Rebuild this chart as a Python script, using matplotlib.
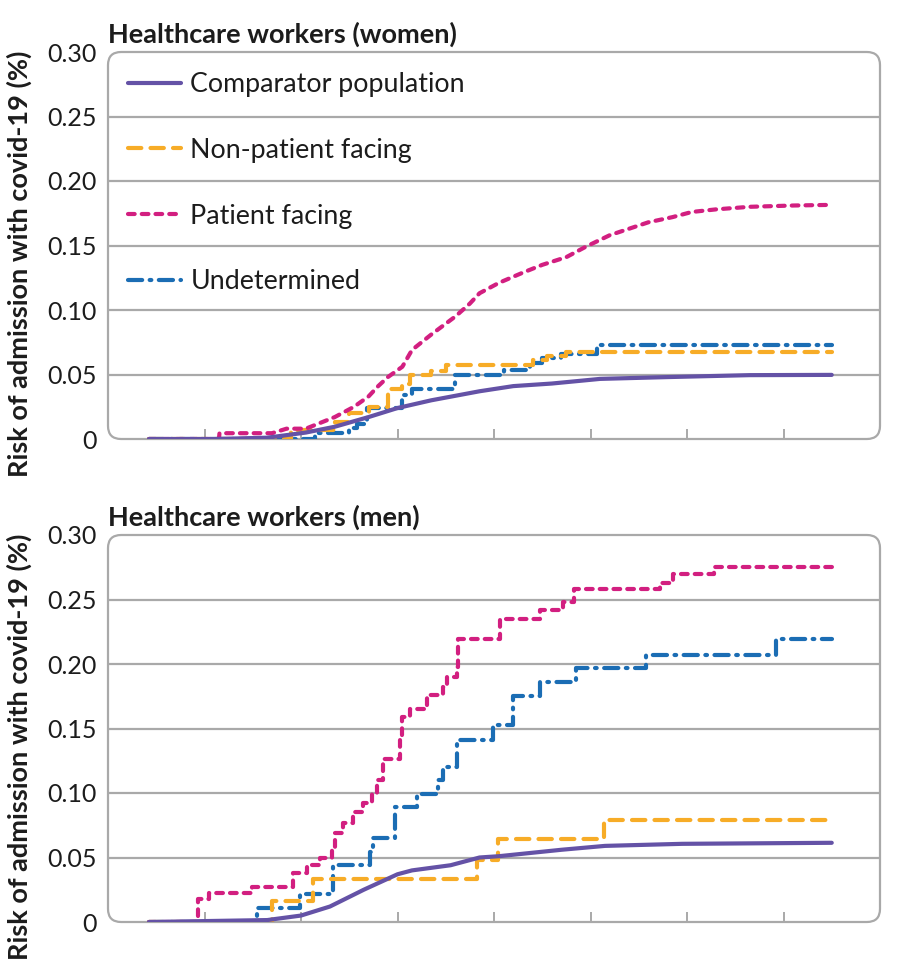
import matplotlib
matplotlib.use("Agg")
import matplotlib.pyplot as plt
from matplotlib.patches import FancyBboxPatch
from matplotlib.lines import Line2D

plt.rcParams['font.family'] = ['Lato', 'DejaVu Sans']

# ---------------- data (x in days since start, y in %) ----------------
series_names = ["Comparator population", "Non-patient facing", "Patient facing", "Undetermined"]

# Women
w_comp_x = [8.5, 22, 33, 41, 47, 54, 60, 67, 77, 84, 92, 102, 116, 133, 150]
w_comp_y = [0, 0, 0.001, 0.005, 0.0095, 0.017, 0.024, 0.030, 0.037, 0.041, 0.043, 0.0466, 0.048, 0.0495, 0.0497]

w_pat_x = [8.5, 23, 23.1, 34, 37, 41, 43, 47, 51, 54, 56, 58, 61, 63, 67, 72, 75, 77, 81, 86, 90, 95, 99, 104, 108, 112, 117, 121, 126, 133, 142, 150]
w_pat_y = [0, 0, 0.0045, 0.0045, 0.008, 0.008, 0.011, 0.017, 0.025, 0.033, 0.041, 0.048, 0.056, 0.069, 0.081, 0.095, 0.105, 0.113, 0.121, 0.129, 0.135, 0.141, 0.149, 0.158, 0.163, 0.168, 0.172, 0.176, 0.178, 0.180, 0.181, 0.1815]

w_non_x = [8.5, 34, 38, 44, 47, 50, 54, 58, 61, 62.6, 67, 70, 87, 88, 91, 95, 150]
w_non_y = [0, 0, 0.007, 0.007, 0.013, 0.020, 0.025, 0.039, 0.043, 0.050, 0.053, 0.057, 0.057, 0.061, 0.064, 0.0675, 0.0675]

w_und_x = [8.5, 41.4, 43, 46.6, 50, 51.6, 53.6, 58.4, 61, 63, 70, 72, 81, 82, 87.5, 90, 93.8, 100, 101.4, 150]
w_und_y = [0, 0, 0.005, 0.005, 0.0085, 0.012, 0.024, 0.024, 0.034, 0.039, 0.039, 0.050, 0.050, 0.0535, 0.059, 0.063, 0.066, 0.066, 0.073, 0.073]

# Men (step functions: value holds from x[i] to x[i+1])
m_comp_x = [8.5, 33, 40, 46, 53, 60, 63, 71, 77, 81, 94, 103, 119, 150]
m_comp_y = [0, 0.0015, 0.005, 0.012, 0.025, 0.037, 0.040, 0.044, 0.050, 0.051, 0.056, 0.059, 0.0606, 0.0614]

m_pat_x = [8.5, 18.6, 21.0, 29.8, 38.3, 41.2, 43.9, 46.4, 47.0, 48.7, 50.7, 52.8, 54.7, 55.7, 57.0, 60.5, 60.9, 62.6, 66.2, 69.4, 70.3, 72.3, 72.6, 81.3, 89.6, 94.4, 96.5, 114.5, 117.2, 125.5, 150]
m_pat_y = [0, 0.018, 0.0225, 0.027, 0.038, 0.044, 0.050, 0.056, 0.069, 0.077, 0.085, 0.092, 0.100, 0.110, 0.126, 0.141, 0.159, 0.165, 0.176, 0.182, 0.190, 0.198, 0.219, 0.235, 0.242, 0.248, 0.258, 0.263, 0.270, 0.275, 0.275]

m_und_x = [8.5, 30.8, 39.7, 46.6, 54.3, 55.0, 59.5, 64.0, 68.4, 69.4, 72.3, 79.8, 84.0, 89.6, 96.9, 111.4, 138.4, 150]
m_und_y = [0, 0.011, 0.022, 0.044, 0.054, 0.065, 0.089, 0.099, 0.110, 0.120, 0.141, 0.153, 0.175, 0.186, 0.197, 0.207, 0.219, 0.219]

m_non_x = [8.5, 33.9, 42.4, 76.5, 80.9, 102.7, 150]
m_non_y = [0, 0.016, 0.033, 0.048, 0.064, 0.079, 0.079]

y_ticks = [0, 0.05, 0.10, 0.15, 0.20, 0.25, 0.30]
y_tick_labels = ["0", "0.05", "0.10", "0.15", "0.20", "0.25", "0.30"]
x_ticks = [20, 40, 60, 80, 100, 120, 140]

panel_titles = ["Healthcare workers (women)", "Healthcare workers (men)"]
y_label = "Risk of admission with covid-19 (%)"

# ---------------- style ----------------
C_COMP = "#6452a6"
C_NON = "#f7ac27"
C_PAT = "#d21f80"
C_UND = "#1b6db4"
GRID = "#a9a9a9"
TXT = "#1c1c1c"
LW = 3.0

styles = {
    "Comparator population": dict(color=C_COMP, lw=LW, linestyle="-", solid_capstyle="round"),
    "Non-patient facing": dict(color=C_NON, lw=LW, linestyle=(0, (3.2, 2.2)), dash_capstyle="round"),
    "Patient facing": dict(color=C_PAT, lw=LW, linestyle=(0, (1.6, 1.7)), dash_capstyle="round"),
    "Undetermined": dict(color=C_UND, lw=LW, linestyle=(0, (3.4, 1.8, 0.4, 1.8)), dash_capstyle="round"),
}

W, H = 901, 976
fig = plt.figure(figsize=(W / 100, H / 100), dpi=100)

def px_axes(l, t, r, b):
    return fig.add_axes([l / W, 1 - b / H, (r - l) / W, (b - t) / H])

ax1 = px_axes(108, 52, 880, 439)
ax2 = px_axes(108, 535, 880, 922)

def style_axis(ax, title):
    ax.set_xlim(0, 160)
    ax.set_ylim(0, 0.30)
    for s in ax.spines.values():
        s.set_visible(False)
    for yv in y_ticks[1:-1]:
        ax.axhline(yv, color=GRID, lw=1.6, zorder=1)
    bbox = ax.get_window_extent()
    r = 0.017
    box = FancyBboxPatch((0, 0), 1, 1, boxstyle=f"round,pad=0,rounding_size={r}",
                         transform=ax.transAxes, fill=False, edgecolor=GRID, lw=1.6,
                         mutation_aspect=bbox.width / bbox.height, clip_on=False, zorder=1)
    ax.add_patch(box)
    ax.set_yticks(y_ticks)
    ax.set_yticklabels(y_tick_labels, fontsize=18, color=TXT)
    ax.tick_params(axis="y", length=0, pad=8)
    ax.set_xticks(x_ticks)
    ax.tick_params(axis="x", direction="in", length=7, width=1.4, color=GRID, labelbottom=False)
    ax.set_ylabel(y_label, fontsize=19.5, fontweight="bold", color=TXT)
    ax.yaxis.set_label_coords(-0.099, 0.452)
    ax.set_title(title, fontsize=19.5, fontweight="bold", color=TXT, loc="left", pad=7, x=0.0)

style_axis(ax1, panel_titles[0])
style_axis(ax2, panel_titles[1])

# women: fine-grained curves
ax1.plot(w_comp_x, w_comp_y, zorder=5, **styles["Comparator population"])
ax1.plot(w_und_x, w_und_y, drawstyle="steps-post", zorder=4, **styles["Undetermined"])
ax1.plot(w_non_x, w_non_y, drawstyle="steps-post", zorder=4, **styles["Non-patient facing"])
ax1.plot(w_pat_x, w_pat_y, zorder=4, **styles["Patient facing"])

# men: step curves
ax2.plot(m_comp_x, m_comp_y, zorder=5, **styles["Comparator population"])
ax2.plot(m_und_x, m_und_y, drawstyle="steps-post", zorder=4, **styles["Undetermined"])
ax2.plot(m_non_x, m_non_y, drawstyle="steps-post", zorder=4, **styles["Non-patient facing"])
ax2.plot(m_pat_x, m_pat_y, drawstyle="steps-post", zorder=4, **styles["Patient facing"])

handles = [Line2D([], [], **styles[n]) for n in series_names]
leg = ax1.legend(handles, series_names, loc="upper left", bbox_to_anchor=(0.0, 1.0),
                 frameon=False, fontsize=19.3, handlelength=1.98, handletextpad=0.34,
                 labelspacing=1.52, borderaxespad=0.0, borderpad=0.75)
for t in leg.get_texts():
    t.set_color(TXT)

fig.savefig("out.png", dpi=100)
